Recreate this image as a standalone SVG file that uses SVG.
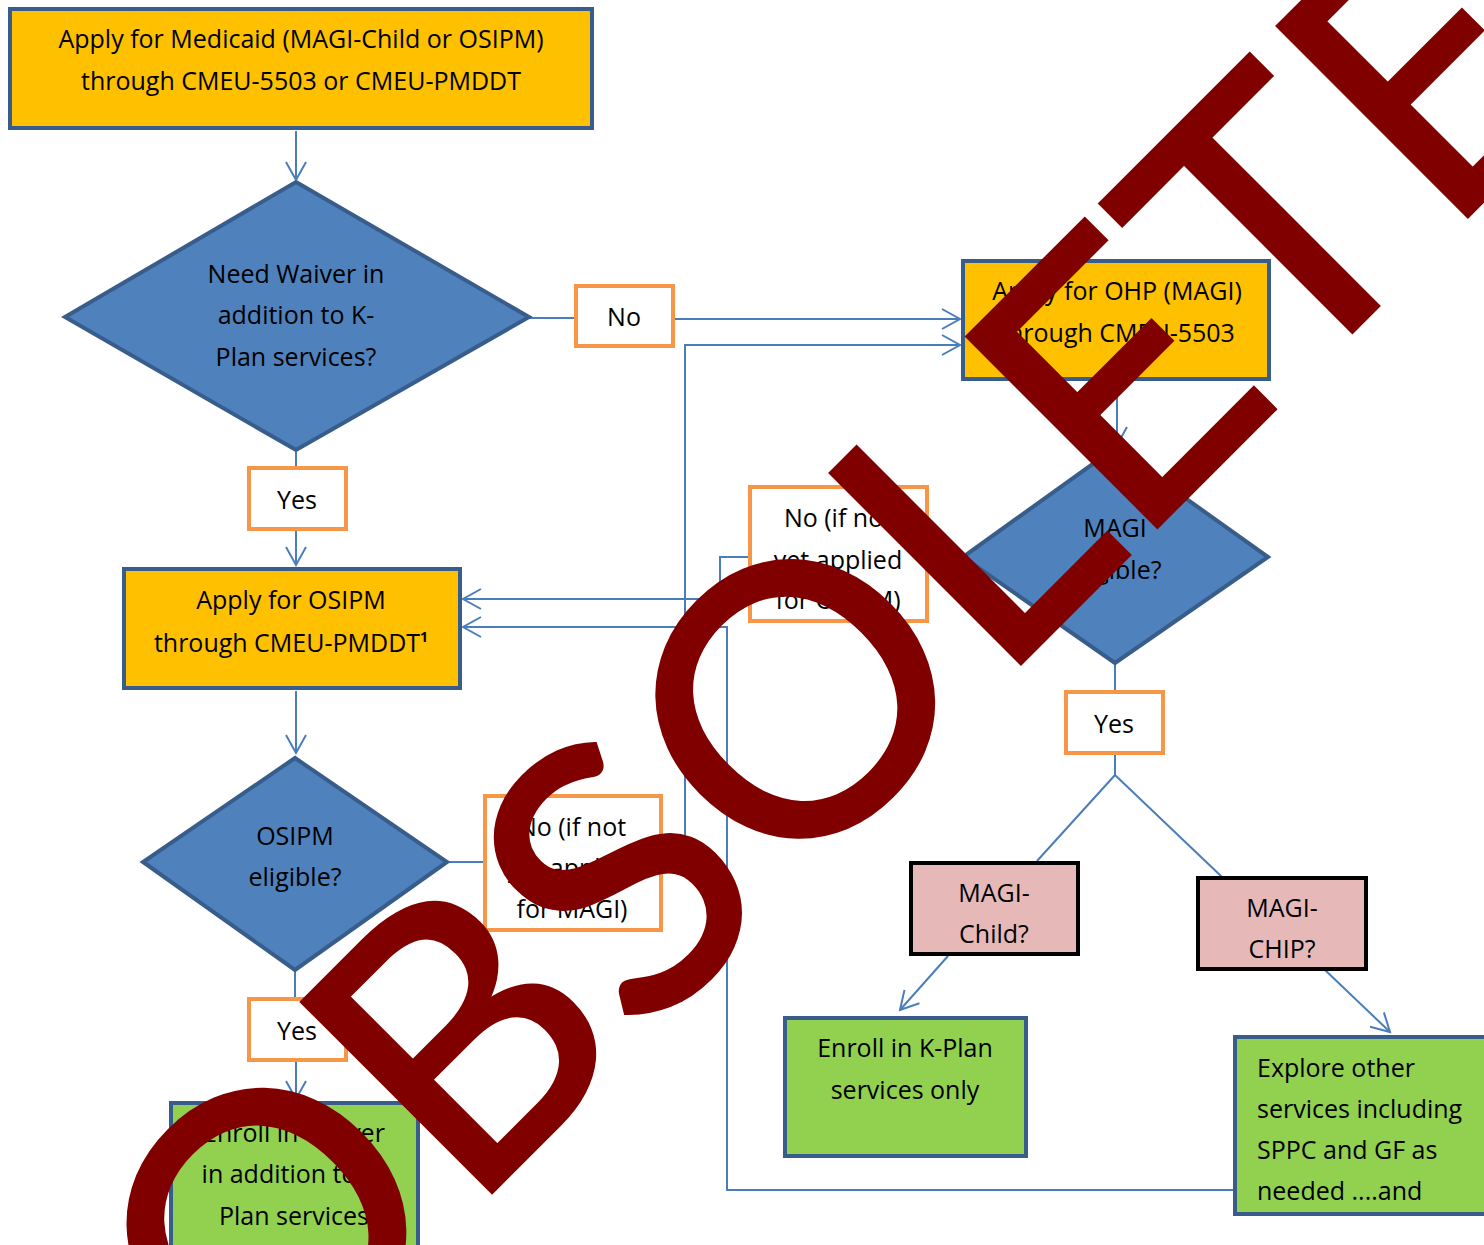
<svg xmlns="http://www.w3.org/2000/svg" width="1484" height="1245" viewBox="0 0 1484 1245">
<defs>
<style>
.t{font-family:"Open Sans","Noto Sans","Liberation Sans",sans-serif;font-size:25px;fill:#000;text-anchor:middle}
.ts{text-anchor:start}
.yb{fill:#FFC000;stroke:#385D8A;stroke-width:4}
.dia{fill:#4F81BD;stroke:#385D8A;stroke-width:4}
.lb{fill:#fff;stroke:#F79646;stroke-width:4}
.pk{fill:#E6B9B8;stroke:#000;stroke-width:4}
.gr{fill:#92D050;stroke:#385D8A;stroke-width:4}
.c{fill:none;stroke:#4A7EBB;stroke-width:2}
.wm{font-family:Lato,"Open Sans","Liberation Sans",sans-serif;font-size:375px;fill:#800000;stroke:#800000;stroke-width:4;stroke-linejoin:miter}
</style>
<marker id="a" markerUnits="userSpaceOnUse" markerWidth="24" markerHeight="24" viewBox="-20 -12 24 24" refX="0" refY="0" orient="auto">
<path d="M-18,-10 L0,0 L-18,10" fill="none" stroke="#4A7EBB" stroke-width="2"/>
</marker>
</defs>
<rect width="1484" height="1245" fill="#fff"/>
<g id="connectors">
<path class="c" d="M296,131 V180" marker-end="url(#a)"/>
<path class="c" d="M529,318 H576"/>
<path class="c" d="M673,319 H960" marker-end="url(#a)"/>
<path class="c" d="M296,452 V468"/>
<path class="c" d="M296,529 V565" marker-end="url(#a)"/>
<path class="c" d="M296,691 V753" marker-end="url(#a)"/>
<path class="c" d="M447,862 H485"/>
<path class="c" d="M661,862 H685 V345 H960" marker-end="url(#a)"/>
<path class="c" d="M295,972 V999"/>
<path class="c" d="M296,1060 V1099" marker-end="url(#a)"/>
<path class="c" d="M1117,381 V445" marker-end="url(#a)"/>
<path class="c" d="M963,557 H927"/>
<path class="c" d="M750,557 H720 V599 H463" marker-end="url(#a)"/>
<path class="c" d="M1115,664 V692"/>
<path class="c" d="M1115,753 V775 L1037,861 M1115,775 L1222,877"/>
<path class="c" d="M948,956 L900,1010" marker-end="url(#a)"/>
<path class="c" d="M1325,970 L1390,1032" marker-end="url(#a)"/>
<path class="c" d="M1235,1190 H727 V627 H463" marker-end="url(#a)"/>
</g>
<g id="n-start"><rect class="yb" x="10" y="9" width="582" height="119"/>
<text class="t" x="301" y="48">Apply for Medicaid (MAGI-Child or OSIPM)</text>
<text class="t" x="301" y="90">through CMEU-5503 or CMEU-PMDDT</text></g>
<g id="n-waiver-q"><polygon class="dia" points="296,182 529,317 296,450 65,317"/>
<text class="t" x="296" y="283">Need Waiver in</text>
<text class="t" x="296" y="324">addition to K-</text>
<text class="t" x="296" y="366">Plan services?</text></g>
<g id="l-no1"><rect class="lb" x="576" y="286" width="97" height="60"/>
<text class="t" x="624" y="326">No</text></g>
<g id="n-ohp"><rect class="yb" x="963" y="261" width="306" height="118"/>
<text class="t" x="1117" y="300">Apply for OHP (MAGI)</text>
<text class="t" x="1117" y="342">through CMEU-5503</text></g>
<g id="l-yes1"><rect class="lb" x="249" y="468" width="97" height="61"/>
<text class="t" x="297" y="509">Yes</text></g>
<g id="n-osipm"><rect class="yb" x="124" y="569" width="336" height="119"/>
<text class="t" x="291" y="609">Apply for OSIPM</text>
<text class="t" x="291" y="652">through CMEU-PMDDT<tspan font-size="14" font-weight="bold" dy="-10">1</tspan></text></g>
<g id="l-no-osipm"><rect class="lb" x="750" y="487" width="177" height="134"/>
<text class="t" x="838" y="527">No (if not</text>
<text class="t" x="838" y="569">yet applied</text>
<text class="t" x="838" y="609">for OSIPM)</text></g>
<g id="n-magi-q"><polygon class="dia" points="1115,448 1268,557 1115,663 963,557"/>
<text class="t" x="1115" y="537">MAGI</text>
<text class="t" x="1115" y="579">eligible?</text></g>
<g id="l-yes2"><rect class="lb" x="1066" y="692" width="97" height="61"/>
<text class="t" x="1114" y="733">Yes</text></g>
<g id="n-magi-child"><rect class="pk" x="911" y="863" width="167" height="91"/>
<text class="t" x="994" y="902">MAGI-</text>
<text class="t" x="994" y="943">Child?</text></g>
<g id="n-magi-chip"><rect class="pk" x="1198" y="878" width="168" height="91"/>
<text class="t" x="1282" y="917">MAGI-</text>
<text class="t" x="1282" y="958">CHIP?</text></g>
<g id="n-osipm-q"><polygon class="dia" points="295,758 447,862 295,970 143,862"/>
<text class="t" x="295" y="845">OSIPM</text>
<text class="t" x="295" y="886">eligible?</text></g>
<g id="l-no-magi"><rect class="lb" x="485" y="796" width="176" height="134"/>
<text class="t" x="572" y="836">No (if not</text>
<text class="t" x="572" y="877">yet applied</text>
<text class="t" x="572" y="918">for MAGI)</text></g>
<g id="l-yes3"><rect class="lb" x="249" y="999" width="97" height="61"/>
<text class="t" x="297" y="1040">Yes</text></g>
<g id="n-enroll-waiver"><rect class="gr" x="171" y="1103" width="247" height="150"/>
<text class="t" x="294" y="1142">Enroll in Waiver</text>
<text class="t" x="294" y="1183">in addition to K-</text>
<text class="t" x="294" y="1225">Plan services</text></g>
<g id="n-enroll-k"><rect class="gr" x="785" y="1018" width="241" height="138"/>
<text class="t" x="905" y="1057">Enroll in K-Plan</text>
<text class="t" x="905" y="1099">services only</text></g>
<g id="n-explore"><rect class="gr" x="1235" y="1037" width="260" height="177"/>
<text class="t ts" x="1257" y="1077">Explore other</text>
<text class="t ts" x="1257" y="1118">services including</text>
<text class="t ts" x="1257" y="1159">SPPC and GF as</text>
<text class="t ts" x="1257" y="1200">needed ....and</text></g>
<g id="watermark"><text class="wm" transform="translate(255,1429) rotate(-45)" textLength="1898" lengthAdjust="spacingAndGlyphs">OBSOLETE</text></g>
</svg>
